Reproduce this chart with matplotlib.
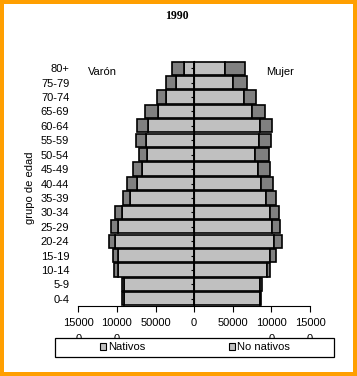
import matplotlib
matplotlib.use('Agg')
import matplotlib.pyplot as plt
from matplotlib.patches import Rectangle
import numpy as np

plt.rcParams['font.family'] = ['Liberation Sans', 'DejaVu Sans']

ages = ['0-4', '5-9', '10-14', '15-19', '20-24', '25-29', '30-34', '35-39', '40-44',
        '45-49', '50-54', '55-59', '60-64', '65-69', '70-74', '75-79', '80+']

# valores de 1990 (personas)
varon_nativos = [91200, 90400, 98600, 99000, 102100, 98600, 93800, 83100, 74400,
                 68000, 61500, 62800, 60200, 47300, 37000, 23600, 13300]
varon_no_nativos = [1800, 2600, 4800, 5700, 7800, 8700, 9000, 9400, 12500,
                    10900, 10300, 12100, 13400, 16000, 10900, 12500, 15100]
mujer_nativos = [85300, 85300, 94300, 98700, 103900, 101300, 98700, 92600, 86200,
                 83200, 78400, 83600, 84900, 74500, 65100, 50900, 39300]
mujer_no_nativos = [1300, 2600, 3900, 7200, 9800, 9800, 11100, 13300, 15900,
                    15000, 18500, 15900, 15900, 17700, 15000, 17600, 26600]

xticks = [-150000, -100000, -50000, 0, 50000, 100000, 150000]
xticklabels = ['15000\n0', '10000\n0', '50000', '0', '50000', '10000\n0', '15000\n0']

light = '#C0C0C0'
dark = '#808080'
W, H = 357, 376

fig = plt.figure(figsize=(W / 100, H / 100), dpi=100)
fig.patch.set_edgecolor('#FF9F00')
fig.patch.set_linewidth(4.5)

ax = fig.add_axes([78.3 / W, 1 - 306 / H, (310 - 78.3) / W, (306 - 61) / H])
y = np.arange(len(ages))
vn = np.array(varon_nativos)
mn = np.array(mujer_nativos)
bar_kw = dict(height=0.92, edgecolor='black', linewidth=1.2)
b1 = ax.barh(y, -vn, color=light, **bar_kw)
b2 = ax.barh(y, -np.array(varon_no_nativos), left=-vn, color=dark, **bar_kw)
ax.barh(y, mn, color=light, **bar_kw)
ax.barh(y, mujer_no_nativos, left=mn, color=dark, **bar_kw)

ax.set_xlim(-150000, 150000)
ax.set_ylim(-0.5, len(ages) - 0.5)
ax.set_xticks(xticks)
ax.set_xticklabels(xticklabels, fontsize=8)
for t in ax.get_xticklabels():
    t.set_linespacing(1.65)
ax.tick_params(axis='x', direction='out', length=4, width=0.8, pad=5)
ax.spines['top'].set_visible(False)
ax.spines['right'].set_visible(False)
ax.spines['bottom'].set_linewidth(0.8)
ax.spines['left'].set_position(('data', 0))
ax.spines['left'].set_linewidth(0.8)
ax.set_yticks(y)
ax.tick_params(axis='y', direction='out', length=2.5, width=0.8, labelleft=False)

sec = ax.secondary_yaxis('left')
sec.set_yticks(y)
sec.set_yticklabels(ages, fontsize=8)
sec.tick_params(length=0, pad=6.5)
sec.spines['left'].set_visible(False)

fig.text(30 / W, 1 - 188 / H, 'grupo de edad', rotation=90, fontsize=8,
         ha='center', va='center')
fig.text(176.5 / W, 1 - 16 / H, '1990', fontsize=8.5, fontweight='bold',
         family='Liberation Serif', ha='center', va='center')
fig.text(88 / W, 1 - 72 / H, 'Varón', fontsize=8, ha='left', va='center')
fig.text(266 / W, 1 - 72 / H, 'Mujer', fontsize=8, ha='left', va='center')

# recuadro de la leyenda
box = Rectangle((55 / W, 1 - 357.3 / H), (334 - 55) / W, 19.6 / H,
                transform=fig.transFigure, facecolor='white', edgecolor='black',
                linewidth=0.9, zorder=4)
fig.patches.append(box)
leg = fig.legend([b1, b2], ['Nativos', 'No nativos'], loc='center',
                 bbox_to_anchor=(195 / W, 1 - 347.5 / H), ncol=2, frameon=False,
                 fontsize=8, handlelength=0.5, handleheight=0.5,
                 handletextpad=0.15, columnspacing=7.6)
leg.set_zorder(5)
for h in leg.legend_handles:
    h.set_facecolor(light)
    h.set_linewidth(0.8)

fig.savefig('out.png', dpi=100)
